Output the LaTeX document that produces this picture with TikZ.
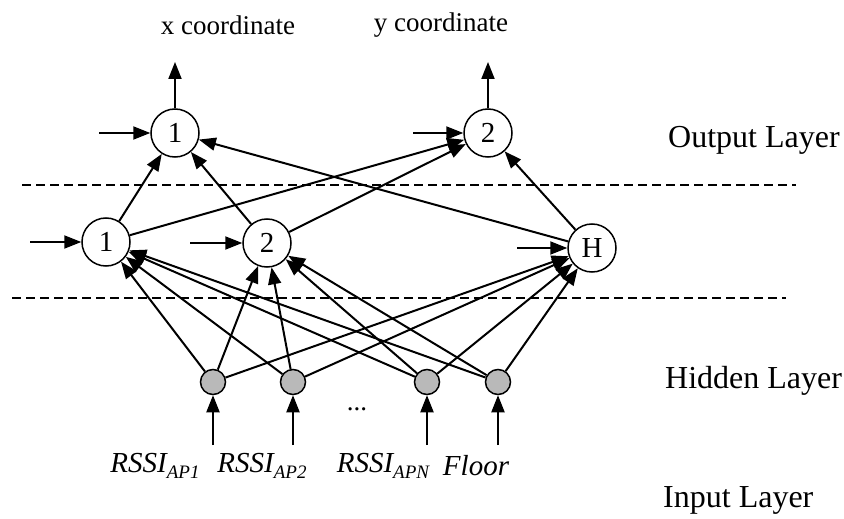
\documentclass[tikz,border=0pt]{standalone}
\usepackage{fontspec}
\setmainfont{Liberation Serif}
\usetikzlibrary{arrows.meta}
% lowered subscript for the input labels
\newcommand{\lowsub}[1]{\raisebox{-0.22em}{\fontsize{19}{22}\selectfont\itshape #1}}
\begin{document}
\begin{tikzpicture}[x=1pt,y=-1pt,
  neuron/.style={circle,draw,line width=1.5pt,minimum size=48pt,inner sep=0pt,
                 font=\fontsize{29}{32}\selectfont},
  innode/.style={circle,draw,line width=1.5pt,minimum size=25pt,inner sep=0pt,fill=gray!55},
  link/.style={line width=2pt,-{Triangle[length=17pt,width=13pt]}},
  sep/.style={line width=2.3pt,dash pattern=on 9pt off 5pt},
  layer/.style={anchor=west,inner sep=0pt,font=\fontsize{32}{38}\selectfont},
  outlab/.style={inner sep=0pt,font=\fontsize{27}{32}\selectfont},
  inlab/.style={inner sep=0pt,font=\fontsize{29}{34}\selectfont\itshape}]
\useasboundingbox (0,0) rectangle (844,519);

% output layer
\node[neuron] (o1) at (175,133) {1};
\node[neuron] (o2) at (488,133) {2};
% hidden layer
\node[neuron] (h1) at (106,242) {1};
\node[neuron] (h2) at (267,243) {2};
\node[neuron] (hh) at (592,248) {H};
% input layer
\node[innode] (i1) at (213,382) {};
\node[innode] (i2) at (293,382) {};
\node[innode] (i3) at (427,382) {};
\node[innode] (i4) at (498,382) {};
\node[font=\fontsize{27}{32}\selectfont,inner sep=0pt] (dots) at (357,409) {...};

% layer separators
\coordinate (s1a) at (22,185);  \coordinate (s1b) at (796,185);
\coordinate (s2a) at (12,298);  \coordinate (s2b) at (786,298);
\draw[sep] (s1a) -- (s1b);
\draw[sep] (s2a) -- (s2b);

% outputs
\coordinate (xo) at (175,62);
\coordinate (yo) at (488,62);
\draw[link] (o1) -- (xo);
\draw[link] (o2) -- (yo);
\node[outlab] (xl) at (228,25) {x coordinate};
\node[outlab] (yl) at (441,25) {y coordinate};

% bias inputs
\coordinate (bo1) at (99,133);
\coordinate (bo2) at (413,133);
\coordinate (bh1) at (30,242);
\coordinate (bh2) at (190,243);
\coordinate (bhh) at (517,248);
\draw[link] (bo1) -- (o1);
\draw[link] (bo2) -- (o2);
\draw[link] (bh1) -- (h1);
\draw[link] (bh2) -- (h2);
\draw[link] (bhh) -- (hh);

% hidden -> output
\foreach \h in {h1,h2,hh}
  \foreach \o in {o1,o2}
    \draw[link] (\h) -- (\o);

% input -> hidden
\foreach \i in {i1,i2,i3,i4}
  \foreach \h in {h1,h2,hh}
    \draw[link] (\i) -- (\h);

% external inputs
\foreach \i/\x in {i1/213,i2/293,i3/427,i4/498}{
  \coordinate (t\i) at (\x,445);
  \draw[link] (t\i) -- (\i);
}

% input labels
\node[inlab] (l1) at (155,466) {RSSI\lowsub{AP1}};
\node[inlab] (l2) at (262,466) {RSSI\lowsub{AP2}};
\node[inlab] (l3) at (383,466) {RSSI\lowsub{APN}};
\node[inlab] (l4) at (476,466) {Floor};

% layer names
\node[layer] (lo) at (668,140) {Output Layer};
\node[layer] (lh) at (665,381) {Hidden Layer};
\node[layer] (li) at (663,500) {Input Layer};
\end{tikzpicture}
\end{document}
